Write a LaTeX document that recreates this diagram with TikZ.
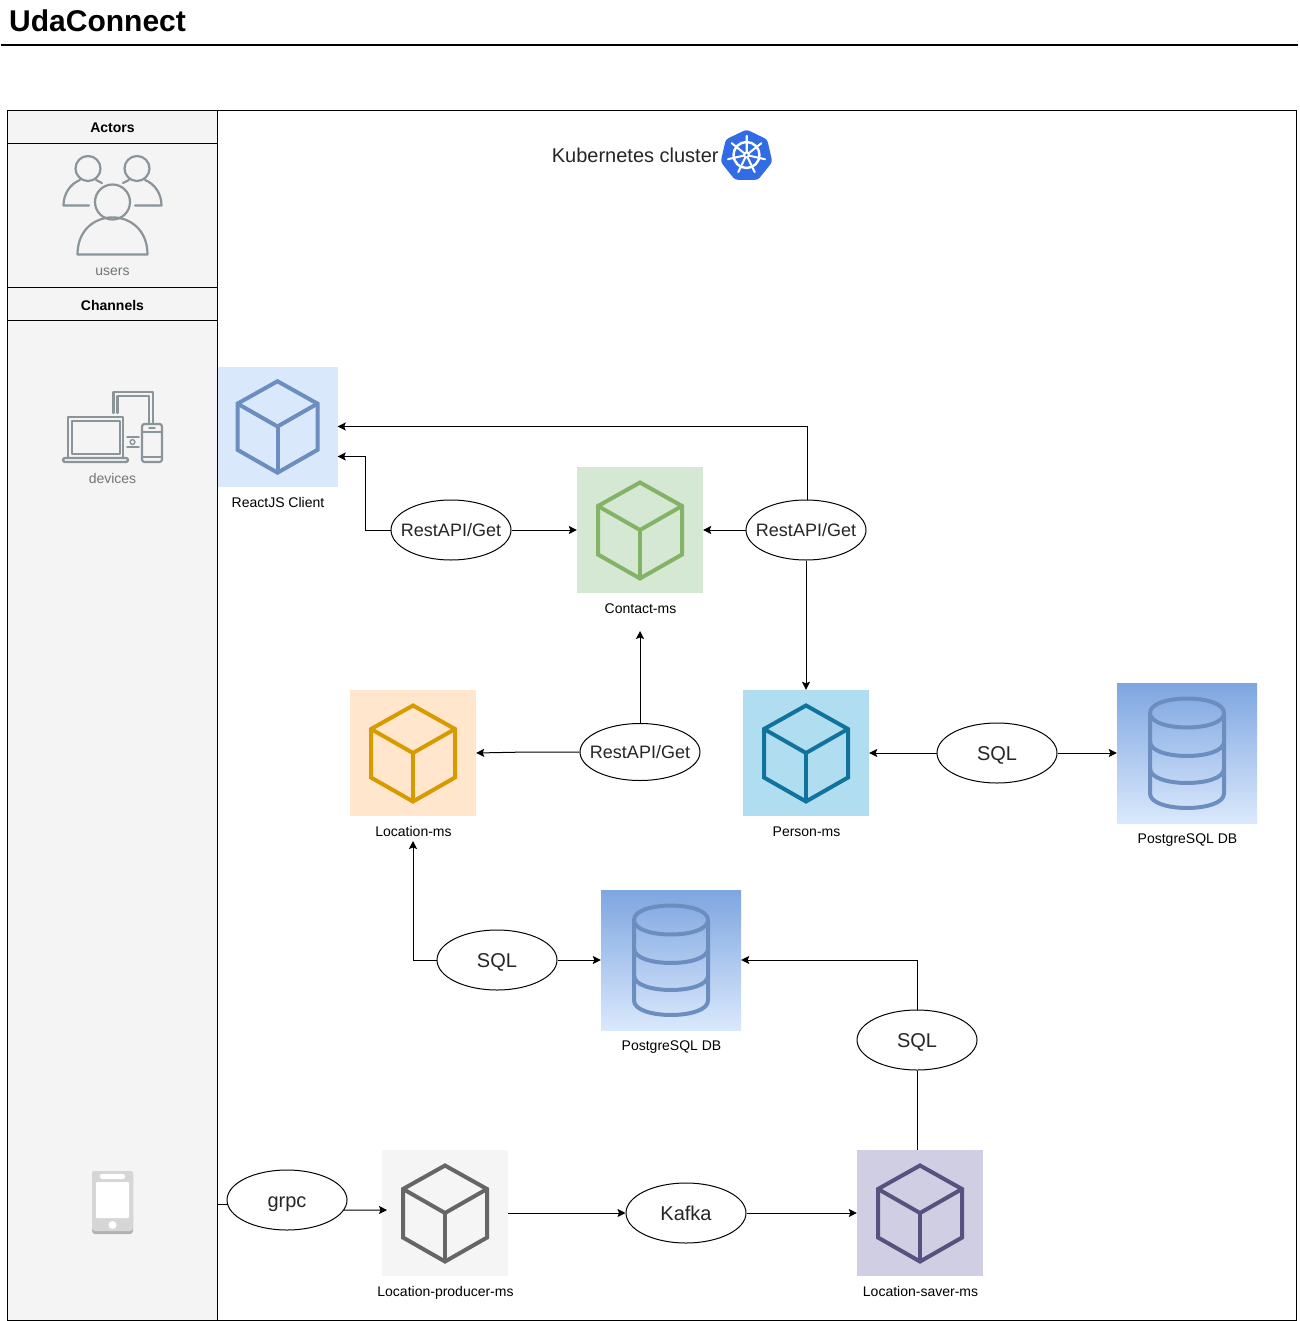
\documentclass[tikz,border=0pt]{standalone}
\usepackage{fontspec}
\setmainfont{Liberation Sans}
\usetikzlibrary{arrows.meta,positioning,shapes.geometric}
\definecolor{lanegray}{HTML}{F4F4F4}
\definecolor{icongray}{HTML}{8A9499}
\definecolor{labelgray}{HTML}{6F7578}
\definecolor{clientbox}{HTML}{DAE8FC}
\definecolor{clientline}{HTML}{6C8EBF}
\definecolor{contactbox}{HTML}{D5E8D4}
\definecolor{contactline}{HTML}{82B366}
\definecolor{locationbox}{HTML}{FFE6CC}
\definecolor{locationline}{HTML}{D79B00}
\definecolor{personbox}{HTML}{B1DDF0}
\definecolor{personline}{HTML}{10739E}
\definecolor{producerbox}{HTML}{F5F5F5}
\definecolor{producerline}{HTML}{666666}
\definecolor{saverbox}{HTML}{D0CEE2}
\definecolor{saverline}{HTML}{56517E}
\definecolor{dbtop}{HTML}{7EA6E0}
\definecolor{kubeblue}{HTML}{326CE5}
\newcommand{\pxfont}[1]{\fontsize{#1}{#1}\selectfont}
\tikzset{
	arrow/.style={-{Stealth[length=8pt,width=8pt,inset=1.5pt]},line width=1pt},
	lanehead/.style={draw,fill=lanegray,line width=1pt,minimum width=210pt,minimum height=33pt,inner sep=0pt,font=\pxfont{14}\bfseries,text height=12pt,text depth=0pt},
	iconbox/.style={minimum size=#1,inner sep=0pt},
	iconlabel/.style={inner sep=0pt,font=\pxfont{14},text height=10pt,text depth=3pt},
	graylabel/.style={inner sep=0pt,text=labelgray,font=\pxfont{14}},
	link/.style={draw,ellipse,fill=white,line width=1pt,minimum width=120pt,minimum height=60pt,inner sep=0pt,font=\pxfont{20},text height=19pt,text depth=4pt,text=black!85},
	restlink/.style={link,inner xsep=-10pt,font=\pxfont{18},text height=16pt,text depth=3pt},
	icon/.style={line width=2.2pt,draw=icongray,line cap=round,line join=round}
}
\begin{document}
\begin{tikzpicture}[x=1pt,y=-1pt]
	\path[use as bounding box,fill=white] (0,0) rectangle (1299,1321);
	\node[anchor=west,inner sep=0pt,font=\pxfont{30}\bfseries] (title) at (9,21) {UdaConnect};
	\draw[line width=2pt] (1,45.5) -- (1297.5,45.5);

	\draw[line width=1pt] (7.5,110.5) rectangle (1296.5,1320.5);
	\draw[line width=1pt,fill=lanegray] (7.5,110.5) rectangle (217.5,1320.5);
	\node[lanehead] (actors) at (112.5,127) {Actors};
	\node[lanehead] (channels) at (112.5,304) {Channels};
	\node[graylabel] (users) at (112.5,272) {users};
	\node[graylabel] (devices) at (112.5,478) {devices};

	\draw[icon] (88,168.5) circle[radius=12.5pt];
	\draw[icon] (137,168.5) circle[radius=12.5pt];
	\draw[icon] (112.5,202) circle[radius=17.5pt];
	\draw[icon] (77.5,254.5) .. controls (77.5,205) and (147.5,205) .. (147.5,254.5) -- cycle;
	\draw[icon] (89,205.5) -- (63.5,205.5) .. controls (63.5,194) and (70,184) .. (80,180);
	\draw[icon] (135,205.5) -- (161.5,205.5) .. controls (161.5,194) and (155,184) .. (145,180);
	\draw[icon] (96,180) -- (102,183);
	\draw[icon] (129,180) -- (123,183);

	\draw[icon] (113.5,413) -- (113.5,392) -- (153,392) -- (153,423);
	\draw[icon] (117.5,413) -- (117.5,396) -- (149,396) -- (149,423);
	\draw[icon] (68,458) -- (68,417) -- (123,417) -- (123,458);
	\draw[icon] (72,421) rectangle (120,454);
	\draw[icon,rounded corners=1.5pt] (63,458) rectangle (128,462);
	\draw[icon,rounded corners=2.5pt] (142,424) rectangle (162,462);
	\draw[icon] (142,432) -- (162,432);
	\draw[icon] (142,457) -- (162,457);
	\draw[icon,line width=1.2pt] (149,428) -- (155,428);
	\draw[icon,line width=1.6pt] (127,437) -- (139,437);
	\draw[icon,line width=1.6pt] (127,447) -- (139,447);
	\draw[icon,line width=1.4pt] (132.5,442) circle[radius=2.4pt];

	\fill[black!30,rounded corners=3pt] (92,1171) rectangle (133,1234);
	\fill[black!16,rounded corners=3pt] (92,1171) rectangle (133,1231);
	\fill[white,rounded corners=1pt] (96,1182) rectangle (129,1218);
	\fill[white,rounded corners=2pt] (100,1174) rectangle (125,1179);
	\fill[white] (112.5,1225) circle[radius=4pt];

	\node[regular polygon,regular polygon sides=7,minimum size=53pt,inner sep=0pt,fill=kubeblue,rounded corners=3pt] (kube) at (746.5,156) {};
	\node[left=3pt of kube,inner sep=0pt,yshift=1pt,text=black!85,font=\pxfont{20}] (kubelabel) {Kubernetes cluster};
	\begin{scope}[shift={(746.5,155)},white]
		\draw[line width=2.4pt] (0,0) circle[radius=13pt];
		\foreach \a in {90,141.4,...,450}{
			\draw[line width=2pt,line cap=round] (\a:3pt) -- (\a:19pt);
		}
		\fill (0,0) circle[radius=3.5pt];
		\fill[kubeblue] (0,0) circle[radius=1.3pt];
	\end{scope}

	\foreach \name/\cx/\cy/\side/\boxc/\linec/\lab in {
		client/277.5/426.5/120/clientbox/clientline/ReactJS Client,
		contact/640/530/126/contactbox/contactline/Contact-ms,
		location/413/753/126/locationbox/locationline/Location-ms,
		person/806/753/126/personbox/personline/Person-ms,
		producer/445/1213/126/producerbox/producerline/Location-producer-ms,
		saver/920/1213/126/saverbox/saverline/Location-saver-ms}{
		\node[iconbox=\side pt,fill=\boxc] (\name) at (\cx,\cy) {};
		\node[iconlabel,below=10.5pt of \name,xshift=0.5pt] (\name label) {\lab};
		\begin{scope}[shift={(\cx,\cy)},scale=\side/126,line width=4pt]
			\draw[\linec] (0,-47.5) -- (42,-24) -- (42,24.5) -- (0,48.5) -- (-42,24.5) -- (-42,-24) -- cycle;
			\draw[\linec] (-42,-24) -- (0,0) -- (42,-24);
			\draw[\linec] (0,0) -- (0,48.5);
		\end{scope}
	}

	\foreach \name/\cx/\cy in {dbperson/1187/753,dblocation/671/960}{
		\node[iconbox=140pt,top color=dbtop,bottom color=clientbox] (\name) at (\cx,\cy) {};
		\node[iconlabel,below=10.5pt of \name,xshift=0.5pt] (\name label) {PostgreSQL DB};
		\begin{scope}[shift={(\cx,\cy)},line width=4pt,line join=round,clientline]
			\draw (-37,-40) .. controls (-37,-59.3) and (37,-59.3) .. (37,-40) .. controls (37,-20.7) and (-37,-20.7) .. (-37,-40) -- (-37,40.5) .. controls (-37,59.8) and (37,59.8) .. (37,40.5) -- (37,-40);
			\draw (-37,-11.5) .. controls (-37,7.8) and (37,7.8) .. (37,-11.5);
			\draw (-37,15.5) .. controls (-37,34.8) and (37,34.8) .. (37,15.5);
		\end{scope}
	}

	\node[restlink] (restclient) at (451,530) {RestAPI/Get};
	\node[restlink] (restperson) at (806,530) {RestAPI/Get};
	\node[restlink,minimum height=57pt] (restlocation) at (640,752) {RestAPI/Get};
	\node[link] (sqlperson) at (997,753) {SQL};
	\node[link] (sqllocation) at (497,960) {SQL};
	\node[link] (sqlsaver) at (917,1040) {SQL};
	\node[link] (grpc) at (287,1200) {grpc};
	\node[link] (kafka) at (686,1213) {Kafka};

	\coordinate (contactin) at (640,631);
	\coordinate (locationin) at (413,841);
	\coordinate (laneedge) at (217.5,1204.5);
	\coordinate (producerin) at (387,1210);

	\draw[arrow] (807,500) -- (807,426.5) -- (client.east);
	\draw[arrow] (restclient.west) -- (365,530) -- (365,456.5) -- ([yshift=-30pt]client.east);
	\draw[arrow] (restclient.east) -- (contact.west);
	\draw[arrow] (restperson.west) -- (contact.east);
	\draw[arrow] (restperson.south) -- (person.north);
	\draw[arrow] (restlocation.north) -- (contactin);
	\draw[arrow] (restlocation.west) -- ++(-52,0) -- (location.east);
	\draw[arrow] (sqlperson.west) -- (person.east);
	\draw[arrow] (sqlperson.east) -- (dbperson.west);
	\draw[arrow] (sqllocation.west) -- (413,960) -- (locationin);
	\draw[arrow] (sqllocation.east) -- (dblocation.west);
	\draw[arrow] (sqlsaver.north) -- (917,960) -- (dblocation.east);
	\draw[line width=1pt] (sqlsaver.south) -- (sqlsaver.south |- saver.north);
	\draw[line width=1pt] (laneedge) -- (228,1204.5);
	\draw[arrow] (grpc.-10) -- (producerin);
	\draw[arrow] (producer.east) -- (kafka.west);
	\draw[arrow] (kafka.east) -- (saver.west);
\end{tikzpicture}
\end{document}
